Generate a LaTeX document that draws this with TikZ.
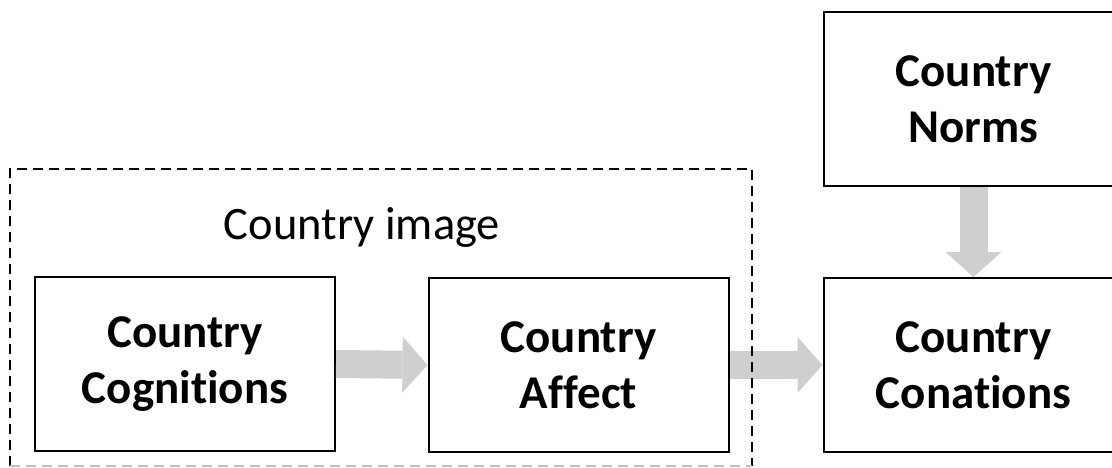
\documentclass[tikz,border=0pt]{standalone}
\usepackage{fontspec}
\setmainfont{Carlito}[Ligatures={NoCommon}]
\usetikzlibrary{arrows.meta}
\definecolor{arrowgray}{RGB}{208,206,206}
\tikzset{
  box/.style={draw=black, line width=2pt, minimum width=300pt, minimum height=174pt,
    inner sep=0pt, align=center, font=\fontsize{47}{56}\selectfont\bfseries},
  fatarrow/.style={draw=arrowgray, line width=28pt,
    -{Triangle[width=56pt,length=25pt,line width=0pt,fill=arrowgray,color=arrowgray]}},
  dashbox/.style={line width=2pt, dash pattern=on 10pt off 6pt},
}
\begin{document}
\begin{tikzpicture}[x=1pt,y=-1pt]
\useasboundingbox (0,0) rectangle (1112,468);
\clip (0,0) rectangle (1112,468);
\node[box] (cog) at (185,364) {Country\\Cognitions};
\node[box] (aff) at (578.5,365) {Country\\Affect};
\node[box] (con) at (973.5,365) {Country\\Conations};
\node[box] (nor) at (973.5,99) {Country\\Norms};
\node[anchor=base, font=\fontsize{46.5}{54}\selectfont, inner sep=0pt] (img) at (362,240) {Country image};
\draw[fatarrow] (cog.east) -- (aff.west);
\draw[fatarrow] (aff.east) -- (con.west);
\draw[fatarrow] (nor.south) -- (con.north);
\coordinate (dtl) at (10,169);
\coordinate (dtr) at (752,169);
\coordinate (dbl) at (10,466);
\coordinate (dbr) at (752,466);
\draw[dashbox, black] (dbl) -- (dtl) -- (dtr) -- (dbr);
\draw[dashbox, black!25] (dbl) -- (dbr);
\end{tikzpicture}
\end{document}
